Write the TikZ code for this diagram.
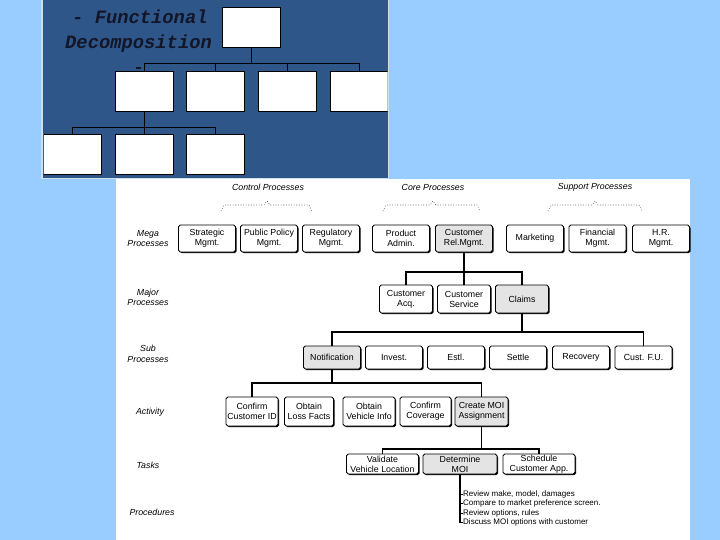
\documentclass[tikz,border=0pt]{standalone}
\usepackage{fontspec}
\setmainfont{Liberation Sans}
\newfontfamily\panelfont{Liberation Mono}
\usetikzlibrary{shadows,calc}
\definecolor{bgblue}{RGB}{153,204,255}
\definecolor{panelblue}{RGB}{47,86,137}
\definecolor{panelrim}{RGB}{205,222,240}
\definecolor{boxgray}{RGB}{228,228,228}
\definecolor{inkdark}{RGB}{18,22,40}
\tikzset{
  pbox/.style={draw=black, fill=white, line width=0.9pt, minimum width=58pt, minimum height=40pt, inner sep=0pt},
  pline/.style={draw=black, line width=0.9pt},
  dbox/.style={draw=black, fill=white, rounded corners=1.8pt, line width=0.8pt, align=center, inner sep=0pt,
    font=\fontsize{8.8}{10}\selectfont,
    drop shadow={shadow xshift=1.1pt, shadow yshift=-1.1pt, fill=black, opacity=1}},
  gbox/.style={dbox, fill=boxgray},
  mega/.style={minimum width=57pt, minimum height=27pt},
  major/.style={minimum width=53pt, minimum height=28pt},
  subp/.style={minimum width=57pt, minimum height=23pt},
  activ/.style={minimum width=52pt, minimum height=29pt},
  taskb/.style={minimum width=72pt, minimum height=20pt},
  conn/.style={draw=black, line width=1.3pt},
  tick/.style={draw=black, line width=0.8pt},
  rowlabel/.style={font=\fontsize{8.8}{10.5}\selectfont\itshape, align=center, inner sep=0pt},
  head/.style={font=\fontsize{8.8}{10}\selectfont\itshape, inner sep=0pt},
  bracedots/.style={draw=black!85, dotted, line width=0.6pt},
  proc/.style={font=\fontsize{8}{9}\selectfont, anchor=west, inner sep=0pt},
  ptitle/.style={font=\panelfont\bfseries\itshape\fontsize{18.8}{20}\selectfont, text=inkdark, anchor=base west, inner sep=0pt}
}
\begin{document}
\begin{tikzpicture}[x=1pt,y=-1pt]
\useasboundingbox (0,0) rectangle (720,540);
\fill[bgblue] (0,0) rectangle (720,540);
\fill[white] (116,179.5) rectangle (690,540);
% ---------- top-left panel ----------
\filldraw[fill=panelblue, draw=panelrim, line width=1.5pt] (42,-2) rectangle (388.5,178.5);
\begin{scope}
\clip (43.5,0) rectangle (387.5,177.5);
\node[pbox] (t0) at (251.5,27.5) {};
\node[pbox] (a1) at (144,91) {};
\node[pbox] (a2) at (215.5,91) {};
\node[pbox] (a3) at (287,91) {};
\node[pbox] (a4) at (359,91) {};
\node[pbox] (c1) at (72,154) {};
\node[pbox] (c2) at (144,154) {};
\node[pbox] (c3) at (215.5,154) {};
\coordinate (pb1) at (251.5,63);
\coordinate (pb2) at (144,127);
\draw[pline] (t0.south) -- (pb1);
\draw[pline] (a1.north) -- (a1.north |- pb1) -- (a4.north |- pb1) -- (a4.north);
\draw[pline] (a2.north) -- (a2.north |- pb1);
\draw[pline] (a3.north) -- (a3.north |- pb1);
\draw[pline] (a1.south) -- (pb2);
\draw[pline] (c1.north) -- (c1.north |- pb2) -- (c3.north |- pb2) -- (c3.north);
\draw[pline] (c2.north) -- (c2.north |- pb2);
\end{scope}
\node[ptitle] (ttl1) at (72,24) {- Functional};
\node[ptitle] (ttl2) at (65,48.5) {Decomposition};
\draw[line width=1.6pt, inkdark] (135.5,68) -- (141,68);
% ---------- headers ----------
\node[head] (hctl) at (268,187) {Control Processes};
\node[head] (hcore) at (433,187) {Core Processes};
\node[head] (hsup) at (595,187) {Support Processes};
\draw[bracedots] (221,211) -- (224,205) -- (264,205) -- (267,201) -- (270,205) -- (309,205) -- (312,211);
\draw[bracedots] (383,211) -- (386,205) -- (430,205) -- (433,201) -- (436,205) -- (477,205) -- (480,211);
\draw[bracedots] (548,211) -- (551,205) -- (592,205) -- (595,201) -- (598,205) -- (639,205) -- (642,211);
% ---------- row labels ----------
\node[rowlabel] (lmega) at (148,238.5) {Mega\\Processes};
\node[rowlabel] (lmajor) at (148,297.5) {Major\\Processes};
\node[rowlabel] (lsub) at (148,354) {Sub\\Processes};
\node[rowlabel] (lact) at (150,412) {Activity};
\node[rowlabel] (ltask) at (148,465) {Tasks};
\node[rowlabel] (lproc) at (152,512) {Procedures};
% ---------- mega processes ----------
\node[dbox,mega] (strat) at (207,238.5) {Strategic\\Mgmt.};
\node[dbox,mega] (pub) at (269,238.5) {Public Policy\\Mgmt.};
\node[dbox,mega] (reg) at (331,238.5) {Regulatory\\Mgmt.};
\node[dbox,mega] (prod) at (401,238.5) {Product\\Admin.};
\node[gbox,mega] (crm) at (464,238.5) {Customer\\Rel.Mgmt.};
\node[dbox,mega] (mkt) at (535,238.5) {Marketing};
\node[dbox,mega] (fin) at (597.5,238.5) {Financial\\Mgmt.};
\node[dbox,mega] (hr) at (661,238.5) {H.R.\\Mgmt.};
% ---------- major processes ----------
\node[dbox,major] (acq) at (406,299) {Customer\\Acq.};
\node[dbox,major] (serv) at (464,299) {Customer\\Service};
\node[gbox,major] (claims) at (522,299) {Claims};
% ---------- sub processes ----------
\node[gbox,subp] (notif) at (332,357.5) {Notification};
\node[dbox,subp] (invest) at (394,357.5) {Invest.};
\node[dbox,subp] (estl) at (456,357.5) {Estl.};
\node[dbox,subp] (settle) at (518,357.5) {Settle};
\node[dbox,subp] (recov) at (581,357.5) {Recovery};
\node[dbox,subp] (custfu) at (643.5,357.5) {Cust. F.U.};
% ---------- activities ----------
\node[dbox,activ] (ccid) at (252,411.5) {Confirm\\Customer ID};
\node[dbox,activ,minimum width=49pt] (olf) at (309,411.5) {Obtain\\Loss Facts};
\node[dbox,activ] (ovi) at (369,411.5) {Obtain\\Vehicle Info};
\node[dbox,activ,minimum width=51pt] (ccov) at (425.5,411.5) {Confirm\\Coverage};
\node[gbox,activ,minimum width=53pt] (cmoi) at (481.5,411.5) {Create MOI\\Assignment};
% ---------- tasks ----------
\node[dbox,taskb] (vvl) at (382.5,464) {Validate\\Vehicle Location};
\node[gbox,taskb,minimum width=74pt] (dmoi) at (460,464) {Determine\\MOI};
\node[dbox,taskb] (sca) at (539,464) {Schedule\\Customer App.};
% ---------- procedures ----------
\node[proc] (p1) at (463,494) {Review make, model, damages};
\node[proc] (p2) at (463,503.5) {Compare to market preference screen.};
\node[proc] (p3) at (463,513) {Review options, rules};
\node[proc] (p4) at (463,522.5) {Discuss MOI options with customer};
% ---------- connectors ----------
\coordinate (bar1) at (464,272);
\draw[conn] (crm.south) -- (crm.south |- bar1);
\draw[conn] (acq.north) -- (acq.north |- bar1) -- (claims.north |- bar1) -- (claims.north);
\draw[conn] (serv.north) -- (serv.north |- bar1);
\coordinate (bar2) at (522,332);
\draw[conn] (claims.south) -- (claims.south |- bar2);
\draw[conn] (notif.north) -- (notif.north |- bar2) -- (custfu.north |- bar2) -- (custfu.north);
\coordinate (bar3) at (332,383);
\draw[conn] (notif.south) -- (notif.south |- bar3);
\draw[conn] (ccid.north) -- (ccid.north |- bar3) -- (cmoi.north |- bar3) -- (cmoi.north);
\coordinate (bar4) at (481.5,449);
\draw[conn] (cmoi.south) -- (cmoi.south |- bar4);
\draw[conn] (vvl.north) -- (vvl.north |- bar4) -- (sca.north |- bar4) -- (sca.north);
\draw[conn, line width=1.2pt] (dmoi.south) -- (dmoi.south |- p4.west) -- (p4.west);
\draw[tick] (dmoi.south |- p1.west) -- (p1.west);
\draw[tick] (dmoi.south |- p2.west) -- (p2.west);
\draw[tick] (dmoi.south |- p3.west) -- (p3.west);
\end{tikzpicture}
\end{document}
